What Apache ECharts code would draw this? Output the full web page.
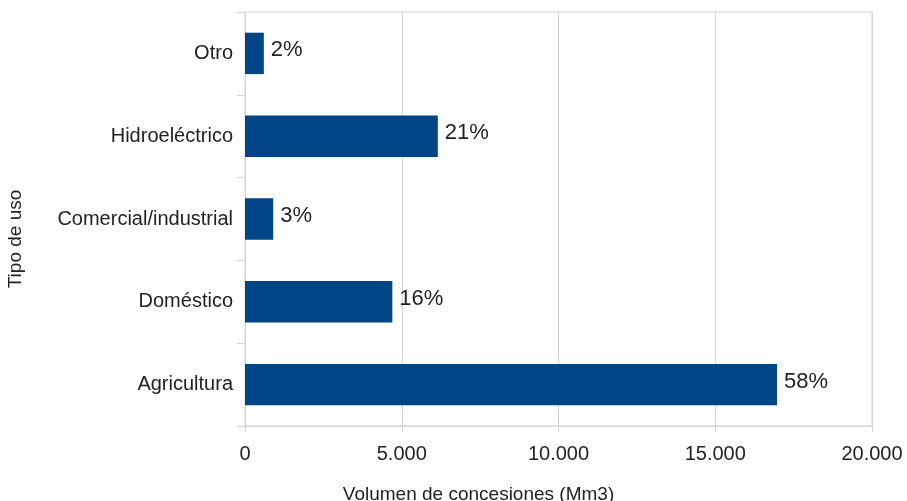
<!DOCTYPE html>
<html>
<head>
<meta charset="utf-8">
<script src="https://cdn.jsdelivr.net/npm/echarts@6/dist/echarts.min.js"></script>
<style>
html,body{margin:0;padding:0;background:#fff;}
#c{width:907px;height:501px;}
</style>
</head>
<body>
<div id="c"></div>
<script>
const categories = ["Agricultura", "Doméstico", "Comercial/industrial", "Hidroeléctrico", "Otro"];
const values = [16970, 4700, 900, 6150, 600];
const pctLabels = ["58%", "16%", "3%", "21%", "2%"];
const xTicks = [0, 5000, 10000, 15000, 20000];

const chart = echarts.init(document.getElementById('c'), null, {renderer: 'canvas'});
const font = '"Liberation Sans", Arial, sans-serif';
const gridColor = '#d4d4d4';

chart.setOption({
  animation: false,
  backgroundColor: '#ffffff',
  grid: {
    left: 245, right: 35, top: 12, bottom: 75,
    show: true, borderColor: gridColor, borderWidth: 1, containLabel: false,
    outerBoundsMode: 'none'
  },
  xAxis: {
    type: 'value',
    min: xTicks[0],
    max: xTicks[xTicks.length - 1],
    interval: 5000,
    name: 'Volumen de concesiones (Mm3)',
    nameLocation: 'middle',
    nameGap: 59,
    nameTextStyle: { fontFamily: font, fontSize: 19, color: '#222', padding: [0, 160, 0, 0] },
    axisLine: { show: true, lineStyle: { color: gridColor } },
    axisTick: { show: true, length: 6, lineStyle: { color: gridColor } },
    splitLine: { show: true, lineStyle: { color: gridColor } },
    axisLabel: {
      fontFamily: font, fontSize: 20, color: '#222', margin: 18,
      formatter: v => v.toString().replace(/\B(?=(\d{3})+(?!\d))/g, '.')
    }
  },
  yAxis: {
    type: 'category',
    data: categories,
    name: 'Tipo de uso',
    nameLocation: 'middle',
    nameGap: 220,
    nameRotate: 90,
    nameTextStyle: { fontFamily: font, fontSize: 19, color: '#222', padding: [0, 40, 0, 0] },
    axisLine: { show: false },
    axisTick: { show: true, length: 8, lineStyle: { color: gridColor } },
    splitLine: { show: false },
    axisLabel: { fontFamily: font, fontSize: 20, color: '#222', margin: 12 }
  },
  series: [{
    type: 'bar',
    data: values,
    barWidth: '50%',
    itemStyle: { color: '#004586' },
    label: {
      show: true,
      position: 'right',
      distance: 7,
      offset: [0, -3],
      fontFamily: font,
      fontSize: 22,
      color: '#222',
      formatter: p => pctLabels[p.dataIndex]
    }
  }]
});
</script>
</body>
</html>
